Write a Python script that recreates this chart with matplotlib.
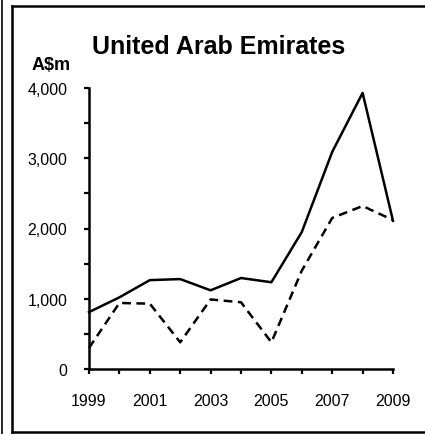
import matplotlib
matplotlib.use("Agg")
import matplotlib.pyplot as plt
from matplotlib.lines import Line2D
from matplotlib.ticker import MultipleLocator, FuncFormatter

plt.rcParams["font.family"] = ["Liberation Sans", "DejaVu Sans"]

years = [1999, 2000, 2001, 2002, 2003, 2004, 2005, 2006, 2007, 2008, 2009]
solid_vals = [810, 1020, 1265, 1280, 1120, 1295, 1235, 1950, 3090, 3930, 2110]
dashed_vals = [300, 940, 930, 380, 990, 950, 380, 1400, 2150, 2320, 2120]
xtick_labels = [1999, 2001, 2003, 2005, 2007, 2009]

W, H = 425, 435
fig = plt.figure(figsize=(W / 100, H / 100), dpi=100)

ax = fig.add_axes([89 / W, 1 - 370 / H, (393 - 89) / W, (370 - 89) / H])
ax.plot(years, solid_vals, color="black", lw=1.8, clip_on=False)
ax.plot(years, dashed_vals, color="black", lw=1.8, ls=(0, (3.5, 2.2)), clip_on=False)

ax.set_xlim(1999, 2009)
ax.set_ylim(0, 4000)
for s in ["top", "right"]:
    ax.spines[s].set_visible(False)
for s in ["left", "bottom"]:
    ax.spines[s].set_linewidth(1.8)

ax.xaxis.set_major_locator(MultipleLocator(1))
ax.xaxis.set_major_formatter(FuncFormatter(lambda v, p: str(int(round(v))) if int(round(v)) in xtick_labels else ""))
ax.yaxis.set_major_locator(MultipleLocator(1000))
ax.yaxis.set_minor_locator(MultipleLocator(500))
ax.yaxis.set_major_formatter(FuncFormatter(lambda v, p: f"{int(v):,}"))
ax.tick_params(axis="x", length=3.5, width=1.6, pad=14, labelsize=11.5)
ax.tick_params(axis="y", which="both", length=3.5, width=1.6, pad=12, labelsize=11.5)

fig.text(219 / W, 1 - 47 / H, "United Arab Emirates", ha="center", va="center",
         fontsize=18, fontweight="bold")
fig.text(51 / W, 1 - 65 / H, "A\\$m", ha="center", va="center",
         fontsize=13, fontweight="bold")

# panel frame
fig.add_artist(Line2D([12 / W, 12 / W], [1 - 7 / H, 1 - 433 / H], color="black", lw=1.8))
fig.add_artist(Line2D([12 / W, 1.0], [1 - 7 / H, 1 - 7 / H], color="black", lw=1.8))
fig.add_artist(Line2D([12 / W, 1.0], [1 - 433 / H, 1 - 433 / H], color="black", lw=1.8))
fig.add_artist(Line2D([2 / W, 2 / W], [1.0, 0.0], color="black", lw=1.2))

fig.savefig("out.png", dpi=100)
